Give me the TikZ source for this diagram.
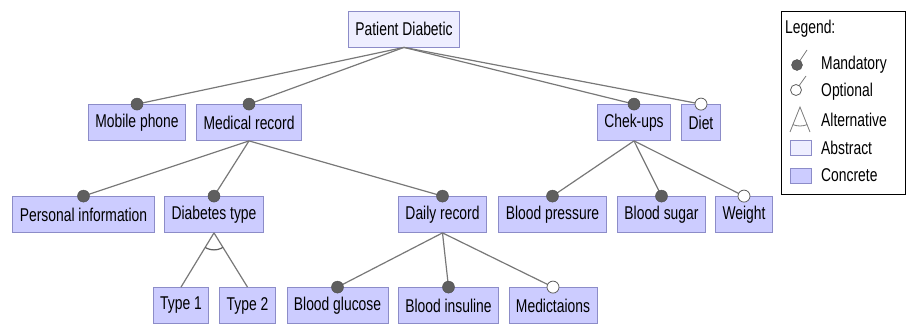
\documentclass[tikz,border=0pt]{standalone}
\usepackage{fontspec}
\setmainfont{Liberation Sans}[FakeStretch=0.75]

\definecolor{concretefill}{RGB}{204,204,255}
\definecolor{abstractfill}{RGB}{238,238,255}
\definecolor{boxline}{RGB}{140,140,200}
\definecolor{edgegray}{RGB}{120,120,120}
\definecolor{mandgray}{RGB}{95,95,95}

\tikzset{
  feature/.style={draw=boxline, line width=0.8pt, minimum height=36pt, inner xsep=7pt,
    font=\fontsize{18.5}{20}\selectfont},
  concrete/.style={feature, fill=concretefill},
  abstract/.style={feature, fill=abstractfill},
  edge/.style={draw=edgegray, line width=1.2pt},
  mand/.style={circle, draw=mandgray!80!black, fill=mandgray, inner sep=0pt, minimum size=12pt},
  opt/.style={circle, draw=mandgray, fill=white, line width=0.8pt, inner sep=0pt, minimum size=12pt},
  legtext/.style={anchor=west, inner sep=0pt, font=\fontsize{18.5}{20}\selectfont}
}

\begin{document}
\begin{tikzpicture}[x=1pt, y=-1pt]
  \useasboundingbox (0,0) rectangle (906,324);

  % features
  \node[abstract] (root) at (404,29) {Patient Diabetic};

  \node[concrete] (mobile)   at (137,122.5) {Mobile phone};
  \node[concrete] (medrec)   at (249,122.5) {Medical record};
  \node[concrete] (checkups) at (634,122.5) {Chek-ups};
  \node[concrete] (diet)     at (701,122.5) {Diet};

  \node[concrete] (persinfo) at (83.5,214.5) {Personal information};
  \node[concrete] (diabtype) at (214,214.5)  {Diabetes type};
  \node[concrete] (daily)    at (442.5,214.5) {Daily record};
  \node[concrete] (bpress)   at (552.5,214.5) {Blood pressure};
  \node[concrete] (bsugar)   at (661.5,214.5) {Blood sugar};
  \node[concrete] (weight)   at (744,214.5)  {Weight};

  \node[concrete] (type1)    at (181,305.5)   {Type 1};
  \node[concrete] (type2)    at (247.5,305.5) {Type 2};
  \node[concrete] (bglucose) at (337.5,305.5) {Blood glucose};
  \node[concrete] (binsulin) at (448.5,305.5) {Blood insuline};
  \node[concrete] (medic)    at (553,305.5)   {Medictaions};

  % connectors
  \foreach \p/\c in {root/mobile, root/medrec, root/checkups, root/diet,
      medrec/persinfo, medrec/diabtype, medrec/daily,
      checkups/bpress, checkups/bsugar, checkups/weight,
      daily/bglucose, daily/binsulin, daily/medic,
      diabtype/type1, diabtype/type2}
    \draw[edge] (\p.south) -- (\c.north);

  \foreach \c in {mobile, medrec, checkups, persinfo, diabtype, daily,
      bpress, bsugar, bglucose, binsulin}
    \node[mand] at (\c.north) {};
  \foreach \c in {diet, weight, medic}
    \node[opt] at (\c.north) {};

  % alternative group
  \begin{scope}
    \clip (diabtype.south) -- (type1.north) -- (type2.north) -- cycle;
    \draw[draw=mandgray, line width=1.2pt] (diabtype.south) circle (17pt);
  \end{scope}

  % legend
  \draw[line width=1pt] (781.5,11.5) rectangle (905.5,194);
  \node[legtext] (legtitle) at (785,29) {Legend:};

  \coordinate (legmandc) at (797,65);
  \draw[edge, line width=0.8pt] (legmandc) -- ++(10,-15);
  \node[mand, minimum size=11pt] (legmand) at (legmandc) {};
  \node[legtext] (legmandt) at (821,65) {Mandatory};

  \coordinate (legoptc) at (796,90);
  \draw[edge, line width=0.8pt] (legoptc) -- ++(10,-14);
  \node[opt, minimum size=11pt] (legopt) at (legoptc) {};
  \node[legtext] (legoptt) at (821,92) {Optional};

  \coordinate (legalta) at (800,107);
  \coordinate (legaltl) at (790,132);
  \coordinate (legaltr) at (810,132);
  \draw[edge, line width=0.8pt] (legaltl) -- (legalta) -- (legaltr);
  \begin{scope}
    \clip (legalta) -- (legaltl) -- (legaltr) -- cycle;
    \draw[edge, line width=0.8pt] (legalta) circle (19pt);
  \end{scope}
  \node[legtext] (legaltt) at (821,120) {Alternative};

  \draw[draw=boxline, fill=abstractfill, line width=0.8pt] (790,140.5) rectangle (811,155.5);
  \node[legtext] (legabst) at (821,148) {Abstract};

  \draw[draw=boxline, fill=concretefill, line width=0.8pt] (790,168) rectangle (811,183);
  \node[legtext] (legcont) at (821,175.5) {Concrete};
\end{tikzpicture}
\end{document}
